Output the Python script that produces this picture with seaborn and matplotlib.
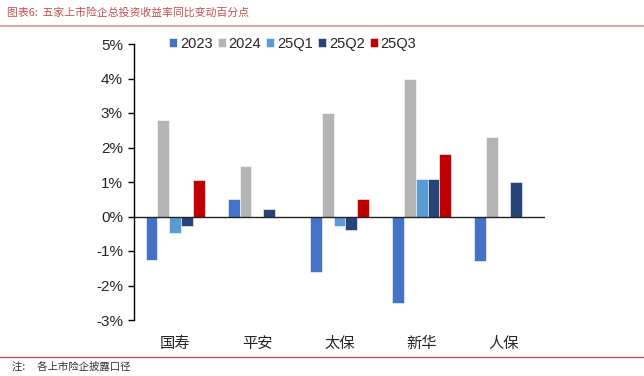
import numpy as np
import pandas as pd
import matplotlib
matplotlib.use("Agg")
import matplotlib.pyplot as plt
import seaborn as sns

companies = ["国寿", "平安", "太保", "新华", "人保"]
series = ["2023", "2024", "25Q1", "25Q2", "25Q3"]
v2023 = [-1.25, 0.50, -1.60, -2.50, -1.30]
v2024 = [2.80, 1.47, 3.00, 4.00, 2.30]
v25q1 = [-0.48, np.nan, -0.28, 1.10, np.nan]
v25q2 = [-0.28, 0.23, -0.40, 1.10, 1.00]
v25q3 = [1.05, np.nan, 0.50, 1.80, np.nan]
colors = ["#4472C4", "#B4B4B4", "#5B9BD5", "#264478", "#C00000"]
yticks = [-3, -2, -1, 0, 1, 2, 3, 4, 5]

sns.set_theme(style="white")
plt.rcParams["font.family"] = ["Liberation Sans", "Noto Sans CJK SC", "DejaVu Sans"]

rows = []
for s, vals in zip(series, [v2023, v2024, v25q1, v25q2, v25q3]):
    for c, v in zip(companies, vals):
        rows.append({"company": c, "series": s, "value": v})
df = pd.DataFrame(rows)

fig = plt.figure(figsize=(6.44, 3.76), dpi=100)
ax = fig.add_axes([134/644, 56/376, 411/644, 276/376])
sns.barplot(data=df, x="company", y="value", hue="series", order=companies,
            hue_order=series, palette=colors, width=0.72, ax=ax,
            edgecolor="white", linewidth=0.4, saturation=1)

ax.set_ylim(-3, 5)
ax.set_yticks(yticks)
ax.set_yticklabels([f"{t}%" for t in yticks], fontsize=11)
ax.set_xlim(-0.5, 4.5)
ax.set_xlabel("")
ax.set_ylabel("")
ax.tick_params(axis="x", length=0, pad=12, labelsize=11)
ax.tick_params(axis="y", length=4, width=1, color="black", left=True, pad=4)
for sp in ["top", "right", "bottom"]:
    ax.spines[sp].set_visible(False)
ax.spines["left"].set_color("black")
ax.spines["left"].set_linewidth(1)
ax.axhline(0, color="#222222", linewidth=1)

ax.legend(loc="center", bbox_to_anchor=(0.386, 1.0), ncol=5, frameon=False,
          fontsize=10.5, handlelength=0.55, handleheight=0.55, handletextpad=0.2,
          columnspacing=0.35, borderaxespad=0)

fig.text(7/644, 1 - 12/376, "图表6:  五家上市险企总投资收益率同比变动百分点", color="#C0504D",
         fontsize=7.8, style="italic", va="center", ha="left",
         family=["Noto Sans CJK SC", "DejaVu Sans"])
fig.add_artist(plt.Line2D([0, 1], [1 - 26/376, 1 - 26/376], color="#D99694", linewidth=1.2,
                          transform=fig.transFigure))
fig.add_artist(plt.Line2D([0, 1], [1 - 357/376, 1 - 357/376], color="#C0504D", linewidth=1,
                          transform=fig.transFigure))
fig.text(12/644, 1 - 367/376, "注:     各上市险企披露口径", color="#333333", fontsize=7.5,
         va="center", ha="left", family=["Noto Sans CJK SC", "DejaVu Sans"])

fig.savefig("out.png", dpi=100)
